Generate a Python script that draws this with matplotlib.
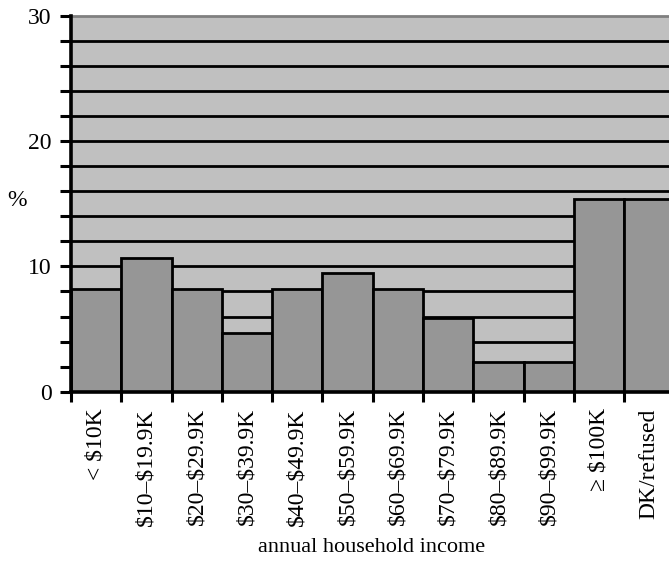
import matplotlib
matplotlib.use("Agg")
import matplotlib.pyplot as plt
import numpy as np

categories = ["< $10K", "$10–$19.9K", "$20–$29.9K", "$30–$39.9K", "$40–$49.9K",
              "$50–$59.9K", "$60–$69.9K", "$70–$79.9K", "$80–$89.9K", "$90–$99.9K",
              "≥ $100K", "DK/refused"]
values = [8.2, 10.7, 8.2, 4.7, 8.2, 9.5, 8.2, 5.9, 2.4, 2.4, 15.4, 15.4]
y_major = [0, 10, 20, 30]
y_minor = list(range(2, 30, 2))

plt.rcParams['font.family'] = ['Liberation Serif', 'DejaVu Serif']
plt.rcParams['text.parse_math'] = False

fig = plt.figure(figsize=(6.69, 5.68), dpi=100)
ax = fig.add_axes([71/669, 176.3/568, (674.5-71)/669, (552.3-176.3)/568])
ax.set_facecolor('#c0c0c0')

n = len(categories)
x = np.arange(n)
for g in y_minor:
    ax.axhline(g, color='black', lw=2.0, zorder=1)
ax.bar(x + 0.5, values, width=1.0, color='#969696', edgecolor='black', linewidth=2.0, zorder=2)

ax.set_xlim(0, n)
ax.set_ylim(0, 30)

ax.spines['right'].set_visible(False)
ax.spines['top'].set_color('#808080')
ax.spines['top'].set_linewidth(2.0)
ax.spines['left'].set_linewidth(2.6)
ax.spines['bottom'].set_linewidth(2.6)
ax.spines['left'].set_zorder(3)
ax.spines['bottom'].set_zorder(3)

ax.set_yticks(y_major)
ax.set_yticks(y_minor, minor=True)
ax.tick_params(axis='y', which='both', direction='out', length=8, width=2.2, labelsize=17, pad=6)

ax.set_xticks(np.arange(n + 1))
ax.set_xticklabels([])
ax.set_xticks(x + 0.5, minor=True)
ax.set_xticklabels(categories, minor=True, rotation=90, va='top', ha='center', fontsize=17)
ax.tick_params(axis='x', which='major', direction='out', length=7, width=2.2)
ax.tick_params(axis='x', which='minor', length=0, pad=12)

fig.text(17/669, 1 - 200/568, '%', fontsize=17, ha='center', va='center')
fig.text(372/669, 1 - 548/568, 'annual household income', fontsize=16, ha='center', va='center')

fig.savefig('out.png', dpi=100)
